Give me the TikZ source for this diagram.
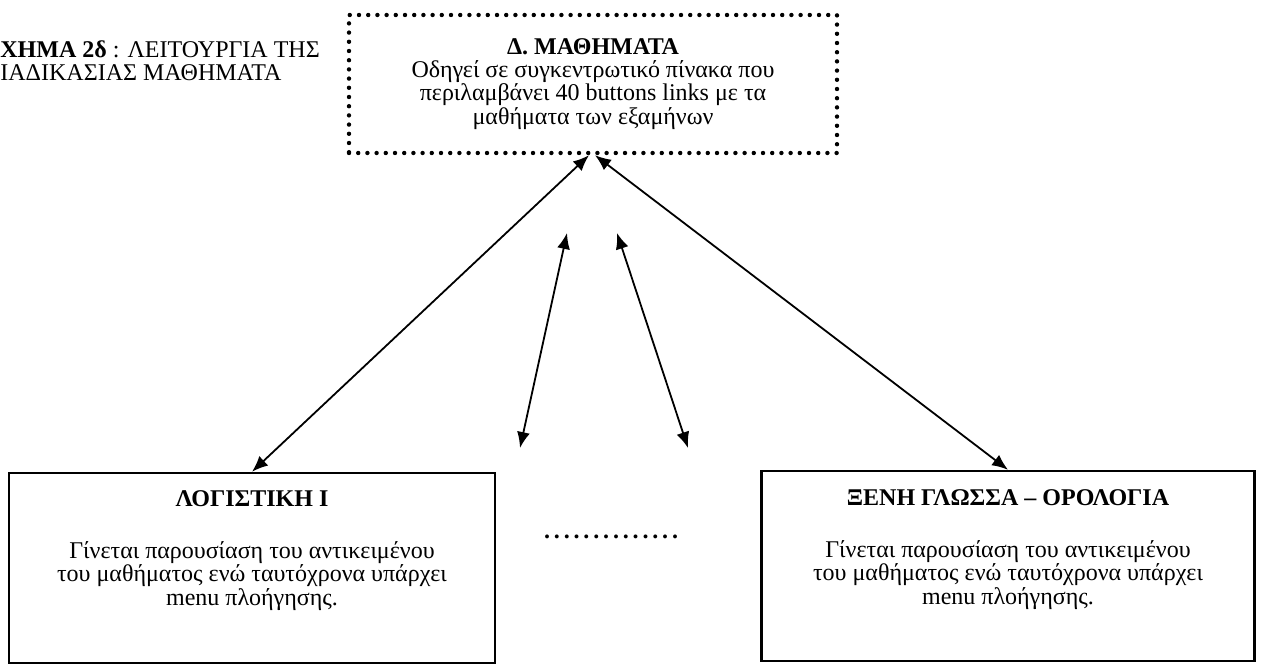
\documentclass[tikz,border=0pt]{standalone}
\usepackage{fontspec}
\setmainfont{Liberation Serif}
\usetikzlibrary{positioning,arrows.meta}

\begin{document}
\begin{tikzpicture}[x=0.5pt, y=-0.5pt,
  font=\fontsize{12}{11.6}\selectfont,
  dotbox/.style={draw, line width=2.2pt, line cap=round, dash pattern=on 0pt off 4.6pt,
    minimum width=244pt, minimum height=69pt, align=center},
  plainbox/.style={draw, line width=1.2pt, minimum width=243pt, minimum height=95pt},
  boxtext/.style={align=center, inner sep=0pt},
  link/.style={{Latex[length=8pt,width=6.5pt]}-{Latex[length=8pt,width=6.5pt]}, line width=0.9pt}]
\useasboundingbox (0,0) rectangle (1261,667);

% caption, cut off at the left
\node[anchor=north west, inner sep=0pt, align=left] (caption) at (0,40)
  {\textbf{ΧΗΜΑ 2δ} : ΛΕΙΤΟΥΡΓΙΑ ΤΗΣ\\ΙΑΔΙΚΑΣΙΑΣ ΜΑΘΗΜΑΤΑ};

% main box
\node[dotbox] (mathimata) at (593,84) {\textbf{Δ. ΜΑΘΗΜΑΤΑ}\\Οδηγεί σε συγκεντρωτικό πίνακα που\\περιλαμβάνει 40 buttons links με τα\\μαθήματα των εξαμήνων};

% course boxes
\node[plainbox] (logistiki) at (252,568) {};
\node[plainbox, minimum width=246.5pt] (xeni) at (1008,566) {};
\node[boxtext] (logistikiTitle) at (252,499) {\textbf{ΛΟΓΙΣΤΙΚΗ Ι}};
\node[boxtext, below=17pt of logistikiTitle] (logistikiText) {Γίνεται παρουσίαση του αντικειμένου\\του μαθήματος ενώ ταυτόχρονα υπάρχει\\menu πλοήγησης.};
\node[boxtext] (xeniTitle) at (1008,498) {\textbf{ΞΕΝΗ ΓΛΩΣΣΑ – ΟΡΟΛΟΓΙΑ}};
\node[boxtext, below=17pt of xeniTitle] (xeniText) {Γίνεται παρουσίαση του αντικειμένου\\του μαθήματος ενώ ταυτόχρονα υπάρχει\\menu πλοήγησης.};

\node[inner sep=0pt] (more) at (613,537) {\textbf{\addfontfeature{LetterSpace=16}..............}};

\coordinate (midL1) at (567,233);
\coordinate (midL2) at (520,448);
\coordinate (midR1) at (617,233);
\coordinate (midR2) at (688,448);

\draw[link] ([xshift=-2pt]mathimata.south) -- (logistiki.north);
\draw[link] ([xshift=1pt]mathimata.south) -- (xeni.north);
\draw[link] (midL1) -- (midL2);
\draw[link] (midR1) -- (midR2);
\end{tikzpicture}
\end{document}
